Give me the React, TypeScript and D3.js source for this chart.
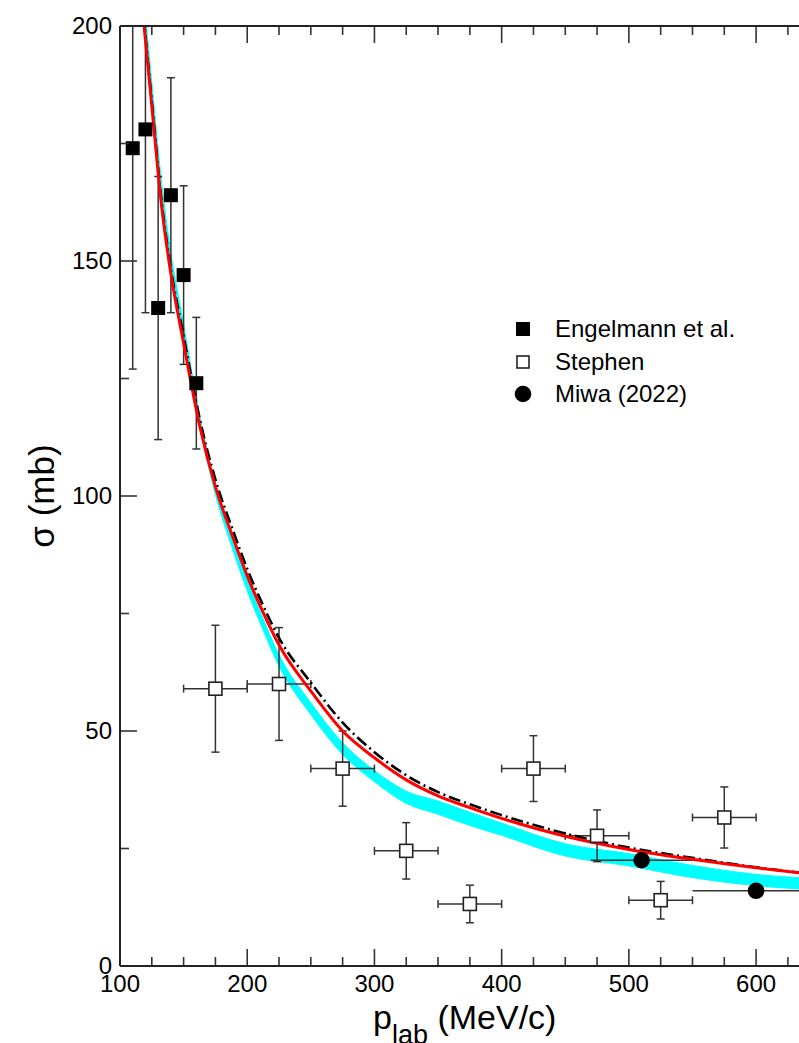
import React from "react";
import * as d3 from "d3";

// ---- data ----
const engP = [110, 120, 130, 140, 150, 160];
const engS = [174, 178, 140, 164, 147, 124];
const engErr = [47, 39, 28, 25, 19, 14];

const stP = [175, 225, 275, 325, 375, 425, 475, 525, 575];
const stS = [59, 60, 42, 24.5, 13.2, 42, 27.7, 14, 31.6];
const stErr = [13.5, 12, 8, 6, 4, 7, 5.5, 4, 6.5];
const stPErr = [25, 25, 25, 25, 25, 25, 25, 25, 25];

const mwP = [510, 600];
const mwS = [22.5, 16];
const mwPErr = [40, 50];

const curveP = [115, 125, 133, 139, 150, 163, 175, 189, 200, 212, 225, 250, 275, 300, 325, 350, 375, 400, 450, 500, 550, 600, 650, 700];
const redS = [211, 183, 161, 149, 132.5, 114.5, 102, 91, 83, 75.5, 68.3, 58.5, 50, 44.3, 39.6, 36.2, 33.7, 31.4, 27.6, 24.8, 22.7, 20.9, 19.4, 18.2];
const dashS = [212, 184, 162, 150, 134, 116, 103.5, 92.5, 84.5, 77, 69.8, 60.3, 51.8, 45.5, 40.6, 37.0, 34.4, 32.1, 28.2, 25.2, 23.0, 21.0, 19.4, 18.2];
const cyanLo = [214, 185, 163, 151, 134, 114.3, 100.3, 88.3, 79.8, 71.8, 63.8, 53.5, 45, 39.2, 34.6, 32.3, 29.9, 27.8, 23.4, 21.3, 18.8, 17.1, 16.1, 15.3];
const cyanHi = [217, 188, 166, 153.5, 136.5, 116.7, 102.7, 90.7, 82.2, 74.2, 66.2, 56, 47.5, 41.6, 37.2, 35.1, 32.7, 30.4, 26.0, 23.9, 21.4, 19.5, 18.5, 17.5];

const xMajor = [100, 200, 300, 400, 500, 600, 700];
const xLabels = [100, 200, 300, 400, 500, 600];
const xMinor = d3.range(125, 700, 25).filter((v) => v % 100 !== 0);
const yMajor = [0, 50, 100, 150, 200];
const yMinor = [25, 75, 125, 175];

const legendLabels = ["Engelmann et al.", "Stephen", "Miwa (2022)"];

const W = 799;
const H = 1043;
const FONT = "'Liberation Sans', Arial, Helvetica, sans-serif";

export default function App() {
  const x = d3.scaleLinear().domain([100, 700]).range([120, 883.3]);
  const y = d3.scaleLinear().domain([0, 200]).range([966, 26]);
  const left = x(100);
  const right = x(700);
  const top = y(200);
  const bottom = y(0);

  const line = d3
    .line<[number, number]>()
    .x((d) => x(d[0]))
    .y((d) => y(d[1]))
    .curve(d3.curveMonotoneX);
  const area = d3
    .area<number>()
    .x((_, i) => x(curveP[i]))
    .y0((_, i) => y(cyanLo[i]))
    .y1((_, i) => y(cyanHi[i]))
    .curve(d3.curveMonotoneX);

  const redPts = curveP.map((p, i) => [p, redS[i]] as [number, number]);
  const dashPts = curveP.map((p, i) => [p, dashS[i]] as [number, number]);

  const ebColor = "#333";
  const cap = 4;

  const legY = [329, 362, 394];
  const legX = 523;

  return (
    <svg
      width={W}
      height={H}
      style={{ position: "absolute", left: 0, top: 0, background: "#fff" }}
    >
      <defs>
        <clipPath id="plotclip">
          <rect x={left} y={top} width={right - left} height={bottom - top} />
        </clipPath>
      </defs>
      <rect x={0} y={0} width={W} height={H} fill="#fff" />

      <g clipPath="url(#plotclip)">
        <path d={area(curveP) || ""} fill="#00ffff" stroke="#00ffff" strokeWidth={1} />

        {/* Engelmann error bars */}
        {engP.map((p, i) => (
          <g key={"ee" + i} stroke={ebColor} strokeWidth={1.5}>
            <line x1={x(p)} x2={x(p)} y1={y(engS[i] + engErr[i])} y2={y(engS[i] - engErr[i])} />
            <line x1={x(p) - cap} x2={x(p) + cap} y1={y(engS[i] + engErr[i])} y2={y(engS[i] + engErr[i])} />
            <line x1={x(p) - cap} x2={x(p) + cap} y1={y(engS[i] - engErr[i])} y2={y(engS[i] - engErr[i])} />
          </g>
        ))}

        {/* Stephen error bars */}
        {stP.map((p, i) => (
          <g key={"se" + i} stroke={ebColor} strokeWidth={1.5}>
            <line x1={x(p)} x2={x(p)} y1={y(stS[i] + stErr[i])} y2={y(stS[i] - stErr[i])} />
            <line x1={x(p) - cap} x2={x(p) + cap} y1={y(stS[i] + stErr[i])} y2={y(stS[i] + stErr[i])} />
            <line x1={x(p) - cap} x2={x(p) + cap} y1={y(stS[i] - stErr[i])} y2={y(stS[i] - stErr[i])} />
            <line x1={x(p - stPErr[i])} x2={x(p + stPErr[i])} y1={y(stS[i])} y2={y(stS[i])} />
            <line x1={x(p - stPErr[i])} x2={x(p - stPErr[i])} y1={y(stS[i]) - cap} y2={y(stS[i]) + cap} />
            <line x1={x(p + stPErr[i])} x2={x(p + stPErr[i])} y1={y(stS[i]) - cap} y2={y(stS[i]) + cap} />
          </g>
        ))}

        {/* Miwa error bars */}
        {mwP.map((p, i) => (
          <line
            key={"me" + i}
            x1={x(p - mwPErr[i])}
            x2={x(p + mwPErr[i])}
            y1={y(mwS[i])}
            y2={y(mwS[i])}
            stroke={ebColor}
            strokeWidth={1.5}
          />
        ))}

        <path
          d={line(dashPts) || ""}
          fill="none"
          stroke="#000"
          strokeWidth={2.6}
          strokeDasharray="12,4,2,4"
        />
        <path d={line(redPts) || ""} fill="none" stroke="#ff0000" strokeWidth={3} />

        {/* markers */}
        {engP.map((p, i) => (
          <rect key={"em" + i} x={x(p) - 7} y={y(engS[i]) - 7} width={14} height={14} fill="#000" />
        ))}
        {stP.map((p, i) => (
          <rect
            key={"sm" + i}
            x={x(p) - 6.5}
            y={y(stS[i]) - 6.5}
            width={13}
            height={13}
            fill="#fff"
            stroke="#222"
            strokeWidth={1.6}
          />
        ))}
        {mwP.map((p, i) => (
          <circle key={"mm" + i} cx={x(p)} cy={y(mwS[i])} r={8.3} fill="#000" />
        ))}
      </g>

      {/* axes */}
      <g stroke="#333" strokeWidth={1.6}>
        {xMajor.map((v) => (
          <g key={"xM" + v}>
            <line x1={x(v)} x2={x(v)} y1={bottom} y2={bottom - 17} />
            <line x1={x(v)} x2={x(v)} y1={top} y2={top + 17} />
          </g>
        ))}
        {xMinor.map((v) => (
          <g key={"xm" + v}>
            <line x1={x(v)} x2={x(v)} y1={bottom} y2={bottom - 9} />
            <line x1={x(v)} x2={x(v)} y1={top} y2={top + 9} />
          </g>
        ))}
        {yMajor.map((v) => (
          <line key={"yM" + v} x1={left} x2={left + 17} y1={y(v)} y2={y(v)} />
        ))}
        {yMinor.map((v) => (
          <line key={"ym" + v} x1={left} x2={left + 9} y1={y(v)} y2={y(v)} />
        ))}
      </g>
      <g stroke="#222" strokeWidth={2} fill="none">
        <line x1={left} x2={right} y1={bottom} y2={bottom} />
        <line x1={left} x2={right} y1={top} y2={top} />
        <line x1={left} x2={left} y1={top} y2={bottom} />
        <line x1={right} x2={right} y1={top} y2={bottom} />
      </g>

      {/* tick labels */}
      <g fontFamily={FONT} fontSize={24} fill="#000">
        {xLabels.map((v) => (
          <text key={"xl" + v} x={x(v)} y={bottom + 26} textAnchor="middle">
            {v}
          </text>
        ))}
        {yMajor.map((v) => (
          <text key={"yl" + v} x={left - 8} y={y(v) + 8} textAnchor="end">
            {v}
          </text>
        ))}
      </g>

      {/* axis titles */}
      <text x={373} y={1029} fontFamily={FONT} fontSize={34} fill="#000">
        p
        <tspan fontSize={27} dy={15}>lab</tspan>
        <tspan dy={-15}> (MeV/c)</tspan>
      </text>
      <text
        transform={`translate(54, ${y(100)}) rotate(-90)`}
        textAnchor="middle"
        fontFamily={FONT}
        fontSize={35}
        fill="#000"
      >
        σ (mb)
      </text>

      {/* legend */}
      <g fontFamily={FONT} fontSize={24} fill="#000">
        <rect x={legX - 7} y={legY[0] - 7} width={14} height={14} fill="#000" />
        <rect x={legX - 6} y={legY[1] - 6} width={12} height={12} fill="#fff" stroke="#222" strokeWidth={1.6} />
        <circle cx={legX} cy={legY[2]} r={8.3} fill="#000" />
        {legendLabels.map((t, i) => (
          <text key={t} x={555} y={legY[i] + 8}>
            {t}
          </text>
        ))}
      </g>
    </svg>
  );
}
